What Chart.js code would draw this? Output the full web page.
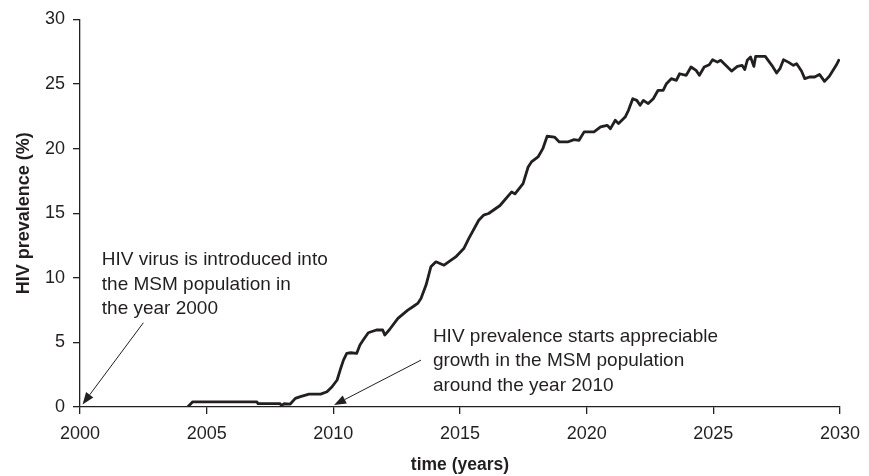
<!DOCTYPE html>
<html>
<head>
<meta charset="utf-8">
<script src="https://cdn.jsdelivr.net/npm/chart.js@4.4.1/dist/chart.umd.min.js"></script>
<style>
  html, body { margin: 0; padding: 0; background: #fff; overflow: hidden; }
  canvas { display: block; }
</style>
</head>
<body>
<canvas id="chart" width="869" height="476"></canvas>
<script>
// Simulated HIV prevalence among MSM
const years = [
  2004.25, 2004.45, 2006.98, 2007.03, 2007.9, 2007.95, 2008.05, 2008.3, 2008.5, 2008.7,
  2009.04, 2009.5, 2009.75, 2009.95, 2010.15, 2010.27, 2010.4, 2010.53, 2010.69, 2010.92,
  2011.05, 2011.18, 2011.38, 2011.7, 2011.95, 2012.03, 2012.22, 2012.55, 2012.94, 2013.14,
  2013.33, 2013.46, 2013.66, 2013.85, 2014.05, 2014.37, 2014.83, 2015.15, 2015.35, 2015.74,
  2015.93, 2016.13, 2016.58, 2017.04, 2017.17, 2017.49, 2017.69, 2017.82, 2018.08, 2018.27,
  2018.44, 2018.73, 2018.92, 2019.25, 2019.5, 2019.7, 2019.9, 2020.29, 2020.55, 2020.81,
  2020.94, 2021.13, 2021.26, 2021.52, 2021.65, 2021.82, 2021.98, 2022.11, 2022.24, 2022.43,
  2022.63, 2022.82, 2023.02, 2023.15, 2023.34, 2023.54, 2023.67, 2023.93, 2024.12, 2024.32,
  2024.45, 2024.64, 2024.84, 2024.97, 2025.16, 2025.29, 2025.49, 2025.72, 2025.95, 2026.14,
  2026.24, 2026.34, 2026.47, 2026.6, 2026.67, 2026.85, 2027.05, 2027.31, 2027.5, 2027.63,
  2027.77, 2027.96, 2028.16, 2028.29, 2028.48, 2028.61, 2028.8, 2029.0, 2029.19, 2029.39,
  2029.58, 2029.85, 2029.95
];
const prevalence = [
  0, 0.4, 0.4, 0.26, 0.26, 0.1, 0.25, 0.23, 0.67, 0.8,
  1.0, 1.0, 1.18, 1.57, 2.09, 2.86, 3.63, 4.15, 4.2, 4.15,
  4.8, 5.18, 5.75, 5.96, 5.96, 5.57, 6.0, 6.86, 7.5, 7.76,
  8.02, 8.4, 9.44, 10.85, 11.24, 10.98, 11.62, 12.27, 13.05, 14.46,
  14.85, 14.98, 15.6, 16.65, 16.5, 17.3, 18.58, 18.97, 19.36, 20.0,
  20.96, 20.9, 20.52, 20.52, 20.7, 20.65, 21.3, 21.3, 21.68, 21.81,
  21.55, 22.2, 21.94, 22.45, 22.97, 23.87, 23.74, 23.36, 23.74, 23.49,
  23.87, 24.52, 24.52, 25.03, 25.42, 25.29, 25.8, 25.68, 26.32, 26.06,
  25.68, 26.32, 26.5, 26.89, 26.7, 26.84, 26.45, 26.01, 26.37, 26.45,
  26.12, 26.84, 27.09, 26.37, 27.14, 27.14, 27.14, 26.45, 25.86, 26.19,
  26.89, 26.7, 26.45, 26.58, 26.01, 25.42, 25.55, 25.55, 25.75, 25.21,
  25.6, 26.45, 26.84
];

// annotation texts and arrows, in data units (year, %)
const noteLines = [
  ['HIV virus is introduced into', 'the MSM population in', 'the year 2000'],
  ['HIV prevalence starts appreciable', 'growth in the MSM population', 'around the year 2010']
];
const noteTextAt = [[2000.86, 10.98], [2013.93, 5.07]];
const arrowFrom = [[2002.5, 6.52], [2013.46, 3.63]];
const arrowTo = [[2000.1, 0.2], [2010.03, 0.15]];

const ink = '#231f20';
const family = '"Liberation Sans", Arial, sans-serif';

const annotate = {
  id: 'annotate',
  afterDatasetsDraw(chart) {
    const { ctx, scales: { x, y } } = chart;
    ctx.save();
    ctx.font = '19px ' + family;
    ctx.fillStyle = ink;
    ctx.strokeStyle = ink;
    ctx.textBaseline = 'alphabetic';
    ctx.textAlign = 'left';
    noteLines.forEach((lines, i) => {
      const tx = x.getPixelForValue(noteTextAt[i][0]);
      const ty = y.getPixelForValue(noteTextAt[i][1]);
      lines.forEach((line, j) => ctx.fillText(line, tx, ty + j * 24.5));

      const x0 = x.getPixelForValue(arrowFrom[i][0]), y0 = y.getPixelForValue(arrowFrom[i][1]);
      const x1 = x.getPixelForValue(arrowTo[i][0]), y1 = y.getPixelForValue(arrowTo[i][1]);
      const ang = Math.atan2(y1 - y0, x1 - x0);
      const head = 12, half = 4.5;
      const bx = x1 - head * Math.cos(ang), by = y1 - head * Math.sin(ang);
      ctx.lineWidth = 1;
      ctx.beginPath();
      ctx.moveTo(x0, y0);
      ctx.lineTo(bx, by);
      ctx.stroke();
      ctx.beginPath();
      ctx.moveTo(x1, y1);
      ctx.lineTo(bx - half * Math.sin(ang), by + half * Math.cos(ang));
      ctx.lineTo(bx + half * Math.sin(ang), by - half * Math.cos(ang));
      ctx.closePath();
      ctx.fill();
    });
    ctx.restore();
  }
};

new Chart(document.getElementById('chart').getContext('2d'), {
  type: 'line',
  data: {
    datasets: [{
      data: years.map((yr, i) => ({ x: yr, y: prevalence[i] })),
      borderColor: ink,
      borderWidth: 2.8,
      pointRadius: 0,
      tension: 0,
      fill: false,
      borderJoinStyle: 'round',
      borderCapStyle: 'round'
    }]
  },
  options: {
    responsive: false,
    animation: false,
    layout: { padding: { top: 19.5, right: 20, left: 0, bottom: 0 } },
    plugins: {
      legend: { display: false },
      tooltip: { enabled: false }
    },
    scales: {
      x: {
        type: 'linear',
        min: 2000,
        max: 2030,
        ticks: {
          stepSize: 5,
          callback: v => String(v),
          font: { size: 18, family },
          color: ink,
          padding: 9,
          maxRotation: 0,
          autoSkip: false
        },
        grid: { drawOnChartArea: false, tickLength: 7, color: ink, lineWidth: 1.3 },
        border: { color: ink, width: 1.3 },
        title: {
          display: true,
          text: 'time (years)',
          font: { size: 17.5, weight: 'bold', family },
          color: ink,
          padding: { top: 0, bottom: 0 }
        },
        afterFit(s) { s.height = 69; }
      },
      y: {
        min: 0,
        max: 30,
        ticks: {
          stepSize: 5,
          font: { size: 18, family },
          color: ink,
          padding: 8
        },
        grid: { drawOnChartArea: false, tickLength: 7, color: ink, lineWidth: 1.3 },
        border: { color: ink, width: 1.3 },
        title: {
          display: true,
          text: 'HIV prevalence (%)',
          font: { size: 18, weight: 'bold', family },
          color: ink,
          padding: { top: 13, bottom: 0 }
        },
        afterFit(s) { s.width = 80; }
      }
    }
  },
  plugins: [annotate]
});
</script>
</body>
</html>
